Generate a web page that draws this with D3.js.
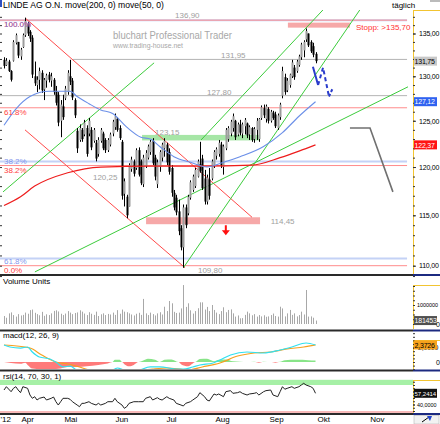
<!DOCTYPE html>
<html>
<head>
<meta charset="utf-8">
<script src="https://cdn.jsdelivr.net/npm/d3@7/dist/d3.min.js"></script>
<style>
  body { margin: 0; background: #fff; }
  svg { display: block; font-family: "Liberation Sans", Arial, sans-serif; }
</style>
</head>
<body>
<div class="chart"></div>
<script>
// daily bars, index 0 = first bar shown
var highs = [132.2,132.1,131.9,130.7,134.2,135.0,134.0,133.3,135.0,136.9,
  136.4,135.4,134.8,131.7,130.0,131.0,130.7,129.8,130.3,130.5,
  130.4,129.8,128.9,128.2,127.3,127.9,128.9,130.7,131.9,129.8,
  127.5,124.2,124.6,124.2,125.1,124.5,125.3,124.3,124.2,122.9,
  123.2,124.2,123.8,123.1,123.1,123.7,125.1,125.8,125.4,124.5,
  122.9,118.8,117.1,120.4,121.1,120.8,122.0,122.1,120.8,121.3,
  121.8,122.4,122.9,123.1,121.3,120.8,121.8,122.6,123.1,122.6,
  122.0,120.2,117.6,117.1,116.6,114.0,116.1,116.1,117.1,118.6,
  119.2,119.9,120.8,122.7,121.3,119.7,119.2,119.9,120.8,121.8,
  122.1,122.9,122.7,122.4,124.2,124.4,125.1,125.8,125.1,124.8,
  125.1,124.8,125.3,124.8,124.5,124.3,124.3,125.3,125.3,126.7,
  126.8,126.8,126.5,126.2,126.1,126.0,125.8,127.0,131.1,130.3,
  129.8,130.3,131.9,131.3,131.9,132.5,133.9,134.2,135.6,135.0,
  134.2,133.9,132.8];
var lows = [130.9,131.2,130.5,129.4,131.7,133.7,132.1,131.9,133.3,134.6,
  134.7,134.0,129.8,128.9,128.2,128.5,128.1,127.3,128.7,129.3,
  128.8,127.9,126.7,124.4,123.2,125.1,127.3,127.9,129.0,127.3,
  125.3,121.5,122.7,122.7,123.3,121.1,123.3,121.8,122.6,120.6,
  121.1,122.6,121.8,121.5,121.6,122.2,123.3,124.0,123.8,122.9,
  116.6,115.9,114.7,115.9,119.5,119.0,119.7,119.0,118.1,117.9,
  119.9,120.8,121.3,120.2,118.6,117.8,119.5,120.6,121.1,120.2,
  119.2,116.9,115.5,115.0,113.0,111.5,109.8,113.7,115.0,116.6,
  117.4,117.8,118.9,119.4,117.6,116.1,116.1,116.6,118.6,119.9,
  120.8,121.1,119.9,119.2,121.8,122.7,123.3,123.8,122.9,123.3,
  123.4,123.1,123.5,123.1,122.9,122.7,122.6,122.9,122.7,125.1,
  125.3,124.8,124.7,124.8,125.1,124.2,124.0,125.1,127.5,127.9,
  128.2,128.7,129.8,129.6,130.4,131.1,131.9,132.2,134.0,133.4,
  132.7,132.2,131.5];
var opens = [131.9,131.3,131.7,130.6,131.8,133.9,134.0,132.3,133.4,134.8,
  136.2,135.2,134.5,130.0,129.0,129.6,130.4,128.5,129.5,130.2,
  129.5,129.6,128.3,127.9,125.0,126.6,127.5,128.2,130.0,129.5,
  127.3,123.9,122.9,124.0,123.5,124.2,123.6,124.0,122.8,122.6,
  121.4,122.8,123.6,122.9,121.8,122.4,123.6,124.3,125.2,124.2,
  122.7,117.2,116.9,115.9,119.8,120.6,119.9,121.8,120.6,118.2,
  120.1,121.0,121.6,122.8,121.0,118.2,120.0,121.0,122.0,122.4,
  121.6,119.9,117.3,116.8,115.4,113.7,111.8,115.8,115.2,116.8,
  117.6,118.0,119.0,120.3,120.9,118.8,116.4,118.7,118.8,120.2,
  121.2,121.4,122.4,120.0,122.0,123.0,123.6,124.2,125.0,123.5,
  124.6,123.6,124.4,124.7,123.5,124.2,123.0,124.0,123.0,125.3,
  126.4,125.2,126.3,125.0,125.9,125.7,124.2,125.4,127.8,129.9,
  128.4,129.0,130.0,131.0,130.6,131.3,132.2,133.0,134.3,135.0,
  134.0,133.5,132.6];
var closes = [131.2,131.8,130.6,129.6,134.0,134.8,132.4,133.1,134.8,136.5,
  135.0,134.4,130.2,129.2,129.6,130.6,128.4,129.6,130.1,129.6,
  130.0,128.2,127.0,124.8,126.8,125.4,128.6,130.4,129.4,127.6,
  125.6,122.0,124.2,123.0,124.8,121.4,125.0,122.1,124.0,120.9,
  122.9,124.0,122.0,121.8,122.9,123.5,124.9,125.5,124.0,123.1,
  117.0,118.5,115.0,120.2,120.8,119.3,121.8,119.2,118.3,121.0,
  121.5,122.2,122.7,120.4,119.0,120.5,121.6,122.4,122.8,120.5,
  119.5,117.3,115.8,115.3,113.4,111.8,115.8,114.0,116.9,118.4,
  119.0,119.7,120.6,119.6,117.8,116.4,118.9,117.0,120.6,121.6,
  121.9,122.6,120.2,122.2,124.0,124.2,124.9,125.5,123.2,124.6,
  123.7,124.6,125.1,123.4,124.3,122.9,124.1,125.0,125.2,126.5,
  125.6,126.6,125.0,126.0,125.3,124.4,125.6,126.8,130.6,128.2,
  129.5,130.2,131.6,129.9,131.7,132.3,133.7,134.0,135.3,133.6,
  132.9,132.5,131.75];
// volume in thousands of units
var volumes = [420,330,560,610,470,390,520,450,480,600,
  540,730,760,590,520,460,640,430,510,470,
  560,690,720,660,540,470,550,680,600,520,
  580,610,720,650,550,470,620,540,480,650,
  420,510,560,470,530,500,600,480,730,540,
  760,650,620,560,500,450,540,590,480,1320,
  560,470,600,520,450,560,620,500,910,680,
  1210,1090,640,580,600,820,2050,900,1090,720,
  550,680,830,1140,1140,760,900,680,1000,740,
  600,520,680,880,620,740,770,560,390,450,
  300,310,480,650,560,460,520,390,470,400,
  460,380,400,470,550,420,390,910,820,400,
  560,740,480,560,400,470,650,500,1790,390,
  400,330,181.453];

// moving averages read at selected bars: [bar index, value]
var ma50 = [[0,124.5],[5,126.3],[11,127.7],[19,128.3],[28,128.3],[31,127.7],[36,126.9],
  [41,126.2],[46,125.8],[52,124.3],[58,123.2],[62,123.0],[66,122.2],[72,121.1],[79,120.5],
  [86,120.0],[93,120.5],[100,121.1],[110,122.2],[118,123.7],[125,125.5],[132,127.12]];
var ma200 = [[0,116.0],[7,116.9],[13,118.0],[27,119.4],[41,120.0],[62,120.1],[83,120.1],
  [105,120.2],[117,121.0],[125,121.7],[132,122.37]];

var macdLine = [[0,2.36],[2.5,2.08],[7,1.94],[10,2.08],[12,1.39],[15,0.69],[19.5,0.42],
  [22.5,-0.14],[25,-0.69],[28,-0.56],[31,-1.2],[36,-1.6],[42,-1.5],[47,-0.97],[48,-0.83],
  [52,-1.2],[56,-1.2],[62,-0.69],[66,-0.69],[73,-0.97],[76,-1.0],[80,-0.69],[83,-0.42],
  [88.6,-0.14],[91.5,0.28],[96,0.97],[103,1.39],[110,1.25],[117,1.67],[122,2.08],[128,2.64],[132,2.36]];
var signalLine = [[0,2.36],[11,1.94],[16,0.97],[22,0],[27,-0.28],[32,-0.69],[36,-1.1],
  [45,-1.4],[55,-1.3],[63,-0.97],[69,-0.83],[78,-1.1],[84,-0.69],[91.5,-0.14],[99,0.83],
  [106,1.25],[113,1.39],[120,1.81],[127,2.08],[132,2.3726]];
var macdHist = [[0,0],[3,-0.15],[7,-0.25],[9,-0.1],[10,-0.4],[12,-0.9],[16,-1.0],[20,-1.0],
  [24,-0.9],[27,-0.7],[31,-0.7],[35,-0.6],[40,-0.4],[44,-0.2],[46,0],[47,0.3],[49,0.3],
  [50,0],[51,-0.3],[53,-0.6],[55,-0.4],[57,0],[59,0.2],[61,0.45],[64,0.3],[66,0],[68,0.3],
  [71,0.35],[74,0],[75,-0.3],[78,-0.6],[80,-0.2],[81,0],[83,0.4],[86,0.45],[88,0.2],[89,0.1],
  [91,0.3],[94,0.35],[97,0.1],[100,0.05],[103,0],[106,0.05],[108,-0.1],[110,0.05],[113,0],
  [115,-0.1],[117,0.05],[119,0.25],[124,0.3],[129,0.25],[132,0.2]];
var rsi = [[0,62.3],[1,67.4],[3,59.7],[4,64.9],[5,67.4],[6,62.3],[7,58.2],[8,67.4],[10,64.9],
  [11,54.6],[12,49.5],[13,52],[14,46.9],[15,49.5],[17,51.5],[18,46.9],[20,49.5],[21,51.5],
  [22,44.3],[23,39.2],[24,44.3],[25,49.5],[27,49.5],[28,48],[29,44.3],[31,39.2],[32,36.6],
  [33,41.8],[34,41.8],[36,44.3],[37,41.8],[39,39.2],[40,41.8],[41,39.2],[43,41.8],[44,44.3],
  [46,44.3],[47,49.5],[48,44.3],[50,39.2],[51,34.1],[52,36.6],[53,41.8],[55,44.3],[57,44.3],
  [59,44.3],[60,49.5],[62,52],[63,46.9],[65,50.5],[66,48],[67,46.9],[69,52],[70,49.5],
  [72,46.9],[73,41.8],[75,39.2],[76,37.7],[77,41.8],[79,44.3],[80,46.9],[82,52],[83,58.2],
  [85,52],[86,46.9],[87,45.4],[89,56.2],[90,54.6],[91,56.2],[93,52],[94,59.7],[96,61.3],
  [97,57.2],[99,58.2],[100,59.7],[101,57.2],[103,54.6],[104,56.2],[106,57.2],[107,58.2],
  [108,54.6],[110,59.7],[111,61.3],[113,62.3],[114,54.6],[116,52],[117,59.7],[118,67.4],
  [119,63.5],[120,64.9],[122,67.4],[123,64.9],[125,67.4],[126,70],[127,72.6],[128,70],
  [130,67.4],[131,64.9],[132,57.2414]];

// axis ticks
var monthLabels = ["'12","Apr","Mai","Jun","Jul","Aug","Sep","Okt","Nov"];
var monthIdx = [-1.7,7.2,25.4,47,68.6,89.4,112.3,132.6,155];
var priceTicks = [110,115,120,125,130,135];

// drawn analysis: fibonacci levels, horizontal levels, zones, trend lines
var fibRed = [136.6,126.44,120.16,110.0];
var fibRedLabels = ["100.0%","61.8%","38.2%","0.0%"];
var fibBlue = [136.6,120.6,110.7];
var fibBlueLabels = ["100.0%","38.2%","61.8%"];
var greyLevels = [131.95,127.8];
var greyFrom = [29.2,-2];
var noteText = ["136,90","131,95","127,80","123,15","120,25","114,45","109,80"];
var noteAt = [[72.5,136.9,0],[92,131.95,-1],[86,127.8,-1],[64,123.15,-3],[37.7,120.25,15],[113,114.45,3],[82.2,109.8,5]];
var zoneGreen = [58.5,108.5,123.45,122.85];
var zonePink = [60.2,108.5,114.8,114.1];
var zoneStop = [120.3,146.6,136.3,135.7];
var redTrend = [[[9.2,136.8],[105.1,114.8]],[[8.9,124.0],[76.7,109.8]]];
var greenTrend = [[[-0.4,117.4],[63.6,131.55]],[[13.1,109.4],[171.2,128.8]],
  [[76.1,109.83],[150.8,137.85]],[[83.5,122.9],[135.2,137.85]]];
var greyPath = [[146.6,124.2],[155.1,124.2],[164.8,117.4]];
var bluePathSolid = [[130.9,131.1],[133.1,129.0]];
var bluePathDash = [[133.1,129.0],[135.2,131.0],[137.7,127.7]];
var blueArrowArm = [[137.7,127.7],[139.4,128.7]];

var W = 440, H = 424, axisX = 413, lineEnd = 170.8, axisFont = 7;
var comma = function(f){ return function(v){ return d3.format(f)(v).replace('.', ','); }; };

var x = d3.scaleLinear().domain([0, 132]).range([4, 315.5]);
var y = d3.scaleLog().domain([110, 135]).range([265.7, 33.5]);
var yVol = d3.scaleLinear().domain([0, 1000]).range([324, 305]);
var yMacd = d3.scaleLinear().domain([0, 2]).range([362, 347.6]);
var yRsi = d3.scaleLinear().domain([30, 70]).range([411, 385]);

var svg = d3.select('.chart').append('svg').attr('width', W).attr('height', H);
var defs = svg.append('defs');
function addClip(id, top, bottom) {
  defs.append('clipPath').attr('id', id).append('rect')
    .attr('x', 0).attr('y', top).attr('width', axisX).attr('height', bottom - top);
}
addClip('clip-main', 10, 274);
addClip('clip-vol', 277, 329);
addClip('clip-macd', 332, 369);
addClip('clip-rsi', 372, 413);

// header
svg.append('rect').attr('x', 0).attr('y', 0).attr('width', 2).attr('height', 7).attr('fill', '#3050c0');
svg.append('text').attr('x', 3).attr('y', 8).attr('font-size', 8.6).attr('fill', '#000')
  .text('LINDE AG O.N. move(200, 0) move(50, 0)');
svg.append('text').attr('x', 392).attr('y', 8).attr('font-size', 8).attr('fill', '#000').text('täglich');
svg.append('rect').attr('x', 430).attr('y', 0).attr('width', 10).attr('height', 2).attr('fill', '#bbb');

var main = svg.append('g').attr('clip-path', 'url(#clip-main)');

// watermark
main.append('text').attr('x', 113).attr('y', 38.5).attr('font-size', 10).attr('fill', '#a8a8a8')
  .attr('textLength', 119).attr('lengthAdjust', 'spacingAndGlyphs').text('bluchart Professional Trader');
main.append('text').attr('x', 113).attr('y', 47.5).attr('font-size', 7.5).attr('fill', '#a8a8a8')
  .attr('textLength', 70).attr('lengthAdjust', 'spacingAndGlyphs').text('www.trading-house.net');

// fibonacci lines
main.selectAll('line.fibb').data(fibBlue).enter().append('line')
  .attr('x1', x(-2)).attr('x2', x(lineEnd)).attr('y1', function(d){ return y(d); }).attr('y2', function(d){ return y(d); })
  .attr('stroke', '#c4d2f6').attr('stroke-width', 2);
main.selectAll('line.fibr').data(fibRed).enter().append('line')
  .attr('x1', x(-2)).attr('x2', x(lineEnd)).attr('y1', function(d){ return y(d); }).attr('y2', function(d){ return y(d); })
  .attr('stroke', '#ff8c8c').attr('stroke-width', 1);
main.selectAll('line.grey').data(greyLevels).enter().append('line')
  .attr('x1', function(d, i){ return x(greyFrom[i]); }).attr('x2', x(lineEnd))
  .attr('y1', function(d){ return y(d); }).attr('y2', function(d){ return y(d); })
  .attr('stroke', '#b4b4b4').attr('stroke-width', 1);

// zones
function zone(z, color) {
  main.append('rect').attr('x', x(z[0])).attr('width', x(z[1]) - x(z[0]))
    .attr('y', y(z[2])).attr('height', y(z[3]) - y(z[2])).attr('fill', color);
}
zone(zoneGreen, '#a6e6a6');
zone(zonePink, '#f6a8a8');
zone(zoneStop, '#f6a8a8');

// trend lines
var seg = d3.line().x(function(d){ return x(d[0]); }).y(function(d){ return y(d[1]); });
main.selectAll('path.rt').data(redTrend).enter().append('path')
  .attr('d', seg).attr('fill', 'none').attr('stroke', '#ff4a4a').attr('stroke-width', 1);
main.selectAll('path.gt').data(greenTrend).enter().append('path')
  .attr('d', seg).attr('fill', 'none').attr('stroke', '#3ccc3c').attr('stroke-width', 1);

// candles
var bars = highs.map(function(h, i){ return {i: i, h: h, l: lows[i], o: opens[i], c: closes[i]}; });
var bar = main.selectAll('g.bar').data(bars).enter().append('g');
bar.append('line')
  .attr('x1', function(d){ return Math.round(x(d.i)) + 0.5; })
  .attr('x2', function(d){ return Math.round(x(d.i)) + 0.5; })
  .attr('y1', function(d){ return y(d.h); }).attr('y2', function(d){ return y(d.l); })
  .attr('stroke', '#000').attr('stroke-width', 1);
bar.append('rect')
  .attr('x', function(d){ return Math.round(x(d.i)) - 0.5; }).attr('width', 2)
  .attr('y', function(d){ return y(Math.max(d.o, d.c)); })
  .attr('height', function(d){ return Math.max(1, Math.abs(y(d.o) - y(d.c))); })
  .attr('fill', function(d){ return d.c >= d.o ? '#9c9c9c' : '#000'; });

// moving averages
var maLine = d3.line().x(function(d){ return x(d[0]); }).y(function(d){ return y(d[1]); }).curve(d3.curveMonotoneX);
main.append('path').attr('d', maLine(ma200)).attr('fill', 'none').attr('stroke', '#ee1c1c').attr('stroke-width', 1.2);
main.append('path').attr('d', maLine(ma50)).attr('fill', 'none').attr('stroke', '#6b8fe8').attr('stroke-width', 1.1);

// projections
main.append('path').attr('d', seg(greyPath)).attr('fill', 'none').attr('stroke', '#707070').attr('stroke-width', 1.6);
main.append('path').attr('d', seg(bluePathSolid)).attr('fill', 'none').attr('stroke', '#2a3ccc').attr('stroke-width', 2);
main.append('path').attr('d', seg(bluePathDash)).attr('fill', 'none').attr('stroke', '#2a3ccc').attr('stroke-width', 2)
  .attr('stroke-dasharray', '4,3');
main.append('path').attr('d', seg(blueArrowArm)).attr('fill', 'none').attr('stroke', '#2a3ccc').attr('stroke-width', 2)
  .attr('stroke-dasharray', '3,2');

// red arrow below the 114,45 zone
var ax = x(94), ay = y(114.0);
main.append('path')
  .attr('d', 'M' + (ax - 1) + ',' + ay + 'h2v5h3l-4,5l-4,-5h3z')
  .attr('fill', '#ff1010');

// labels
main.selectAll('text.fibr').data(fibRed).enter().append('text')
  .attr('x', 4).attr('y', function(d, i){ return y(d) + (i === 2 ? 7.5 : 7); })
  .attr('font-size', 8).attr('fill', '#ff4040').text(function(d, i){ return fibRedLabels[i]; });
main.selectAll('text.fibb').data(fibBlue).enter().append('text')
  .attr('x', 4).attr('y', function(d, i){ return y(d) + [7, 2.5, 5][i]; })
  .attr('font-size', 8).attr('fill', '#6b7fe8').attr('fill-opacity', 0.85).text(function(d, i){ return fibBlueLabels[i]; });
main.selectAll('text.note').data(noteAt).enter().append('text')
  .attr('x', function(d){ return x(d[0]); }).attr('y', function(d){ return y(d[1]) + d[2]; })
  .attr('font-size', 8).attr('fill', '#a0a0a0').text(function(d, i){ return noteText[i]; });
main.append('text').attr('x', x(zoneStop[1]) + 6).attr('y', y(135.7) + 2)
  .attr('font-size', 8).attr('fill', '#ff3030').text('Stopp: >135,70');

// volume panel
var vol = svg.append('g').attr('clip-path', 'url(#clip-vol)');
vol.selectAll('rect').data(volumes).enter().append('rect')
  .attr('x', function(d, i){ return Math.round(x(i)); }).attr('width', 1)
  .attr('y', function(d){ return yVol(d); }).attr('height', function(d){ return yVol(0) - yVol(d); })
  .attr('fill', '#a8a8a8');
svg.append('text').attr('x', 3).attr('y', 283.5).attr('font-size', 8).text('Volume Units');

// macd panel
var macd = svg.append('g').attr('clip-path', 'url(#clip-macd)');
var histArea = function(pos) {
  return d3.area().x(function(d){ return x(d[0]); }).y0(yMacd(0))
    .y1(function(d){ return yMacd(pos ? Math.max(0, d[1]) : Math.min(0, d[1])); })
    .curve(d3.curveMonotoneX);
};
macd.append('path').attr('d', histArea(true)(macdHist)).attr('fill', '#88e488');
macd.append('path').attr('d', histArea(false)(macdHist)).attr('fill', '#ff7a7a');
var macdPath = d3.line().x(function(d){ return x(d[0]); }).y(function(d){ return yMacd(d[1]); }).curve(d3.curveMonotoneX);
macd.append('path').attr('d', macdPath(signalLine)).attr('fill', 'none').attr('stroke', '#f5a020').attr('stroke-width', 1.2);
macd.append('path').attr('d', macdPath(macdLine)).attr('fill', 'none').attr('stroke', '#30e0f0').attr('stroke-width', 1.2);
svg.append('text').attr('x', 3).attr('y', 337.5).attr('font-size', 8).text('macd(12, 26, 9)');

// rsi panel
var rsiG = svg.append('g').attr('clip-path', 'url(#clip-rsi)');
rsiG.append('rect').attr('x', 0).attr('width', axisX).attr('y', yRsi(78)).attr('height', yRsi(70) - yRsi(78)).attr('fill', '#a6f0a6');
rsiG.append('rect').attr('x', 0).attr('width', axisX).attr('y', yRsi(30)).attr('height', yRsi(27) - yRsi(30)).attr('fill', '#f8b8b8');
rsiG.append('path').attr('d', d3.line().x(function(d){ return x(d[0]); }).y(function(d){ return yRsi(d[1]); })(rsi))
  .attr('fill', 'none').attr('stroke', '#222').attr('stroke-width', 1);
svg.append('text').attr('x', 3).attr('y', 379).attr('font-size', 8).text('rsi(14, 70, 30, 1)');

// panel separators
[275, 330.5, 370.5, 414].forEach(function(sy) {
  svg.append('line').attr('x1', 0).attr('x2', axisX).attr('y1', sy).attr('y2', sy).attr('stroke', '#2a2a2a').attr('stroke-width', 2);
  svg.append('line').attr('x1', axisX).attr('x2', W).attr('y1', sy).attr('y2', sy).attr('stroke', '#1c2a80').attr('stroke-width', 2);
});

// right axis frames
[[10, 274], [285, 329], [340, 369], [380, 413]].forEach(function(s) {
  svg.append('line').attr('x1', axisX + 0.5).attr('x2', axisX + 0.5).attr('y1', s[0]).attr('y2', s[1]).attr('stroke', '#f2c431').attr('stroke-width', 1);
  svg.append('line').attr('x1', axisX).attr('x2', W).attr('y1', s[0] + 0.5).attr('y2', s[0] + 0.5).attr('stroke', '#f2c431').attr('stroke-width', 1);
});

function styleAxis(g) {
  g.select('.domain').remove();
  g.selectAll('line').attr('stroke', '#333');
  g.selectAll('text').attr('font-size', axisFont).attr('fill', '#000')
    .attr('font-family', '"Liberation Sans", Arial, sans-serif').attr('letter-spacing', -0.2);
}
// long labels get a smaller size to fit the narrow axis strip
function fitLabels(g) {
  g.selectAll('text').filter(function(){ return this.textContent.length > 6; })
    .attr('font-size', 5.4).attr('letter-spacing', 0).attr('x', 4);
}

// main price axis
svg.append('g').attr('transform', 'translate(' + axisX + ',0)')
  .call(d3.axisRight(y).tickValues(d3.range(109, 138)).tickSize(2).tickFormat(''))
  .call(styleAxis);
svg.append('g').attr('transform', 'translate(2,0)')
  .call(d3.axisLeft(y).tickValues(d3.range(109, 138)).tickSize(2).tickFormat(''))
  .call(styleAxis);
svg.append('g').attr('transform', 'translate(' + axisX + ',0)')
  .call(d3.axisRight(y).tickValues(priceTicks).tickSize(3).tickPadding(3).tickFormat(comma('.2f')))
  .call(styleAxis);

// sub-panel axes
svg.append('g').attr('transform', 'translate(' + axisX + ',0)')
  .call(d3.axisRight(yVol).tickValues(d3.range(0, 2250, 250)).tickSize(2).tickFormat(''))
  .call(styleAxis);
var volAxis = svg.append('g').attr('transform', 'translate(' + axisX + ',0)')
  .call(d3.axisRight(yVol).tickValues([0, 1000]).tickSize(2).tickPadding(3)
    .tickFormat(function(d){ return String(d * 1000); }))
  .call(styleAxis).call(fitLabels);
svg.append('g').attr('transform', 'translate(' + axisX + ',0)')
  .call(d3.axisRight(yMacd).tickValues(d3.range(-1, 4.5, 0.5)).tickSize(2).tickFormat(''))
  .call(styleAxis);
var macdAxis = svg.append('g').attr('transform', 'translate(' + axisX + ',0)')
  .call(d3.axisRight(yMacd).tickValues([0, 2]).tickSize(2).tickPadding(3)
    .tickFormat(function(d){ return d === 0 ? '0' : comma('.4f')(d); }))
  .call(styleAxis).call(fitLabels);
svg.append('g').attr('transform', 'translate(' + axisX + ',0)')
  .call(d3.axisRight(yRsi).tickValues(d3.range(30, 80, 5)).tickSize(2).tickFormat(''))
  .call(styleAxis);
svg.append('g').attr('transform', 'translate(' + axisX + ',0)')
  .call(d3.axisRight(yRsi).tickValues([40, 60]).tickSize(2).tickPadding(3).tickFormat(comma('.4f')))
  .call(styleAxis).call(fitLabels);
[volAxis, macdAxis].forEach(function(a) {
  a.selectAll('.tick').filter(function(d){ return d === 0; }).select('text').attr('x', 23);
});

// value boxes on the axes
function valueBox(yPos, txt, bg, fg) {
  svg.append('rect').attr('x', axisX + 1).attr('y', yPos - 4.5).attr('width', 23).attr('height', 9).attr('fill', bg);
  var t = svg.append('text').attr('x', axisX + 1.5).attr('y', yPos + 2.8).attr('font-size', axisFont)
    .attr('letter-spacing', -0.2).attr('fill', fg).text(txt);
  if (txt.length > 6) t.attr('font-size', 6).attr('letter-spacing', 0);
}
valueBox(y(closes[closes.length - 1]), comma('.2f')(closes[closes.length - 1]), '#c8c8c8', '#000');
valueBox(y(ma50[ma50.length - 1][1]), comma('.2f')(ma50[ma50.length - 1][1]), '#2f62f0', '#fff');
valueBox(y(ma200[ma200.length - 1][1]), comma('.2f')(ma200[ma200.length - 1][1]), '#ff1414', '#fff');
valueBox(yVol(volumes[volumes.length - 1]), String(Math.round(volumes[volumes.length - 1] * 1000)), '#505050', '#fff');
valueBox(yMacd(signalLine[signalLine.length - 1][1]), comma('.4f')(signalLine[signalLine.length - 1][1]), '#f7a21c', '#000');
valueBox(yRsi(rsi[rsi.length - 1][1]), comma('.4f')(rsi[rsi.length - 1][1]), '#111', '#fff');

// time axis
var xAxis = svg.append('g').attr('transform', 'translate(0,414)')
  .call(d3.axisBottom(x).tickValues(monthIdx).tickSize(0).tickPadding(2)
    .tickFormat(function(d, i){ return monthLabels[i]; }))
  .call(styleAxis);
xAxis.selectAll('text').attr('text-anchor', 'start').attr('font-size', 8).attr('letter-spacing', 0);

// corner button
svg.append('rect').attr('x', 414).attr('y', 415.5).attr('width', 25).attr('height', 8.5).attr('fill', '#f2f2f2').attr('stroke', '#aaa').attr('stroke-width', 0.5);
svg.append('path').attr('d', 'M422,422L429,417').attr('stroke', '#000').attr('stroke-width', 1);
svg.append('path').attr('d', 'M427,416L432,416L430,421Z').attr('fill', '#2244cc');
</script>
</body>
</html>
